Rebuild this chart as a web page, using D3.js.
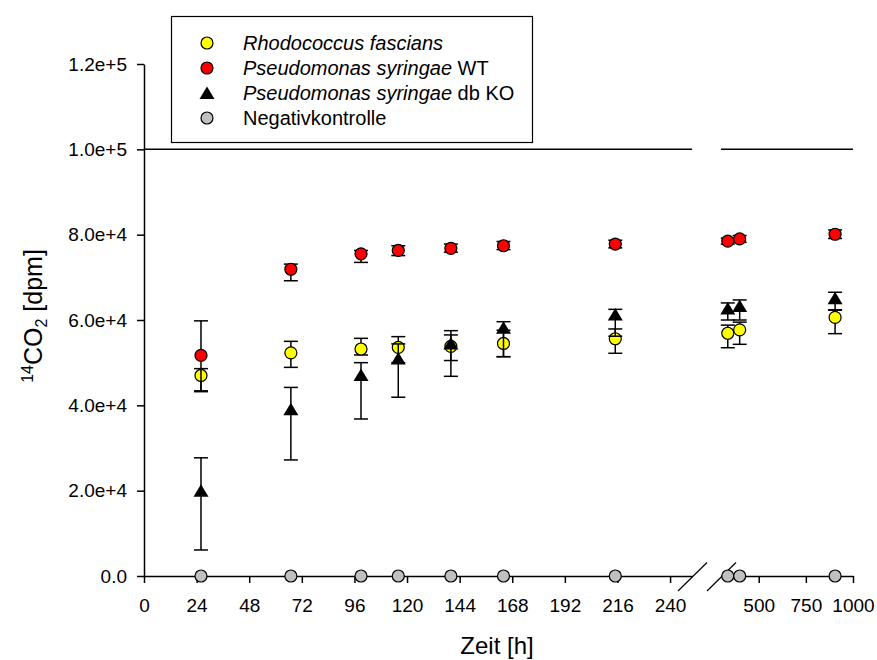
<!DOCTYPE html>
<html>
<head>
<meta charset="utf-8">
<script src="https://cdn.jsdelivr.net/npm/d3@7"></script>
<style>
  body { margin: 0; background: #fff; }
  text { font-family: Arial, "Liberation Sans", sans-serif; }
</style>
</head>
<body>
<svg id="chart" width="877" height="660"></svg>
<script>
// Zeitpunkte (h)
var zeit = [26, 67, 99, 116, 140, 164, 215, 336, 399, 905];

// Rhodococcus fascians
var rhodo     = [47000, 52300, 53200, 53600, 53800, 54500, 55600, 56900, 57700, 60600];
var rhodoUp   = [1600, 2700, 2500, 2500, 2700, 3100, 2300, 1900, 1800, 1700];
var rhodoDown = [3800, 3400, 1400, 3600, 3300, 3100, 3400, 3400, 3400, 3800];

// Pseudomonas syringae WT
var pswt     = [51700, 71900, 75500, 76300, 76800, 77400, 77800, 78500, 79000, 80100];
var pswtUp   = [8100, 1200, 800, 1100, 1000, 1000, 900, 700, 800, 1000];
var pswtDown = [8300, 2700, 2000, 1200, 900, 900, 900, 700, 800, 1000];

// Pseudomonas syringae db KO
var psko     = [20000, 39100, 47100, 51000, 54500, 58200, 61300, 62700, 63300, 65100];
var pskoUp   = [7700, 5100, 2900, 3400, 3000, 1400, 1200, 1300, 1400, 1400];
var pskoDown = [13900, 11900, 10300, 9100, 7700, 6800, 5100, 2700, 3300, 2700];

// Negativkontrolle
var negativ = [0, 0, 0, 0, 0, 0, 0, 0, 0, 0];

var ticksLeft = [0, 24, 48, 72, 96, 120, 144, 168, 192, 216, 240];
var ticksRight = [500, 750, 1000];
var ticksY = [0, 20000, 40000, 60000, 80000, 100000, 120000];
var refLine = 100000;

var svg = d3.select("#chart");

// zwei x-Abschnitte wegen Achsenbruch
var xLeft = d3.scaleLinear().domain([0, 250]).range([144, 692]);
var xRight = d3.scaleLinear().domain([300, 1000]).range([721, 853]);
var y = d3.scaleLinear().domain([0, 120000]).range([576, 64]);

let xPos = (t) => t <= 250 ? xLeft(t) : xRight(t);

// Referenzlinie bei 1.0e+5
[xLeft, xRight].forEach(sc => {
    svg.append("line")
        .attr("x1", sc.range()[0]).attr("x2", sc.range()[1])
        .attr("y1", y(refLine)).attr("y2", y(refLine))
        .attr("stroke", "#000").attr("stroke-width", 1.5);
});

// Achsen
let styleAxis = (g) => {
    g.selectAll("path").attr("stroke-width", 1.5);
    g.selectAll("line").attr("stroke-width", 1.5);
    g.selectAll("text").style("font-size", "19px").attr("fill", "#000");
};

svg.append("g")
    .attr("transform", `translate(0, ${y(0)})`)
    .call(d3.axisBottom(xLeft).tickValues(ticksLeft).tickSize(7).tickSizeOuter(0).tickPadding(16))
    .call(styleAxis);

svg.append("g")
    .attr("transform", `translate(0, ${y(0)})`)
    .call(d3.axisBottom(xRight).tickValues(ticksRight).tickSize(7).tickSizeOuter(0).tickPadding(16)
        .tickFormat(d3.format("d")))
    .call(styleAxis);

svg.append("g")
    .attr("transform", `translate(${xLeft(0)}, 0)`)
    .call(d3.axisLeft(y).tickValues(ticksY).tickSize(7).tickSizeOuter(0).tickPadding(10)
        .tickFormat(d => d === 0 ? "0.0" : d3.format(".1e")(d)))
    .call(styleAxis);

// Bruchstriche
[xLeft.range()[1] + 0.5, xRight.range()[0] + 0.5].forEach(bx => {
    svg.append("line")
        .attr("x1", bx - 14.5).attr("y1", y(0) + 15)
        .attr("x2", bx + 14.5).attr("y2", y(0) - 13.5)
        .attr("stroke", "#000").attr("stroke-width", 1.2);
});

// Achsentitel
svg.append("text")
    .attr("x", 497).attr("y", 654)
    .attr("text-anchor", "middle")
    .style("font-size", "24px")
    .text("Zeit [h]");

let ytitle = svg.append("text")
    .attr("transform", "translate(42, 316) rotate(-90)")
    .attr("text-anchor", "middle")
    .style("font-size", "25px");
ytitle.append("tspan").attr("dy", "-9").style("font-size", "16px").text("14");
ytitle.append("tspan").attr("dy", "9").text("CO");
ytitle.append("tspan").attr("dy", "5").style("font-size", "16px").text("2");
ytitle.append("tspan").attr("dy", "-5").text(" [dpm]");

// Datenreihen
var series = [
    { vals: rhodo, up: rhodoUp, down: rhodoDown, fill: "#ffff00", shape: "circle" },
    { vals: pswt, up: pswtUp, down: pswtDown, fill: "#ff0000", shape: "circle" },
    { vals: psko, up: pskoUp, down: pskoDown, fill: "#000000", shape: "triangle" },
    { vals: negativ, up: null, down: null, fill: "#c0c0c0", shape: "circle" }
];

let drawMarker = (g, shape, fill, cx, cy) => {
    if (shape === "circle") {
        g.append("circle")
            .attr("cx", cx).attr("cy", cy).attr("r", 6)
            .attr("fill", fill).attr("stroke", "#000").attr("stroke-width", 1.2);
    } else {
        g.append("path")
            .attr("d", `M${cx},${cy - 6.5}L${cx + 7.5},${cy + 6}L${cx - 7.5},${cy + 6}Z`)
            .attr("fill", fill);
    }
};

series.forEach(s => {
    let g = svg.append("g");
    let data = zeit.map((t, i) => ({
        t: t, v: s.vals[i],
        hi: s.up ? s.vals[i] + s.up[i] : s.vals[i],
        lo: s.down ? s.vals[i] - s.down[i] : s.vals[i]
    }));
    if (s.up) {
        data.forEach(d => {
            let cx = xPos(d.t);
            g.append("line")
                .attr("x1", cx).attr("x2", cx)
                .attr("y1", y(d.hi)).attr("y2", y(d.lo))
                .attr("stroke", "#000").attr("stroke-width", 1.5);
            [d.hi, d.lo].forEach(e => {
                g.append("line")
                    .attr("x1", cx - 7).attr("x2", cx + 7)
                    .attr("y1", y(e)).attr("y2", y(e))
                    .attr("stroke", "#000").attr("stroke-width", 1.5);
            });
        });
    }
    data.forEach(d => drawMarker(g, s.shape, s.fill, xPos(d.t), y(d.v)));
});

// Legende
svg.append("rect")
    .attr("x", 171.5).attr("y", 16.5).attr("width", 361).attr("height", 126)
    .attr("fill", "#fff").attr("stroke", "#000").attr("stroke-width", 1.2);

var legendItems = [
    { ital: "Rhodococcus fascians", rest: "" },
    { ital: "Pseudomonas syringae", rest: " WT" },
    { ital: "Pseudomonas syringae", rest: " db KO" },
    { ital: "", rest: "Negativkontrolle" }
];
var legendRows = [43, 68, 93, 118];

legendItems.forEach((item, i) => {
    let g = svg.append("g");
    drawMarker(g, series[i].shape, series[i].fill, 207, legendRows[i]);
    let txt = g.append("text")
        .attr("x", 243).attr("y", legendRows[i] + 7)
        .style("font-size", "20px");
    if (item.ital) txt.append("tspan").style("font-style", "italic").text(item.ital);
    if (item.rest) txt.append("tspan").text(item.rest);
});
</script>
</body>
</html>
